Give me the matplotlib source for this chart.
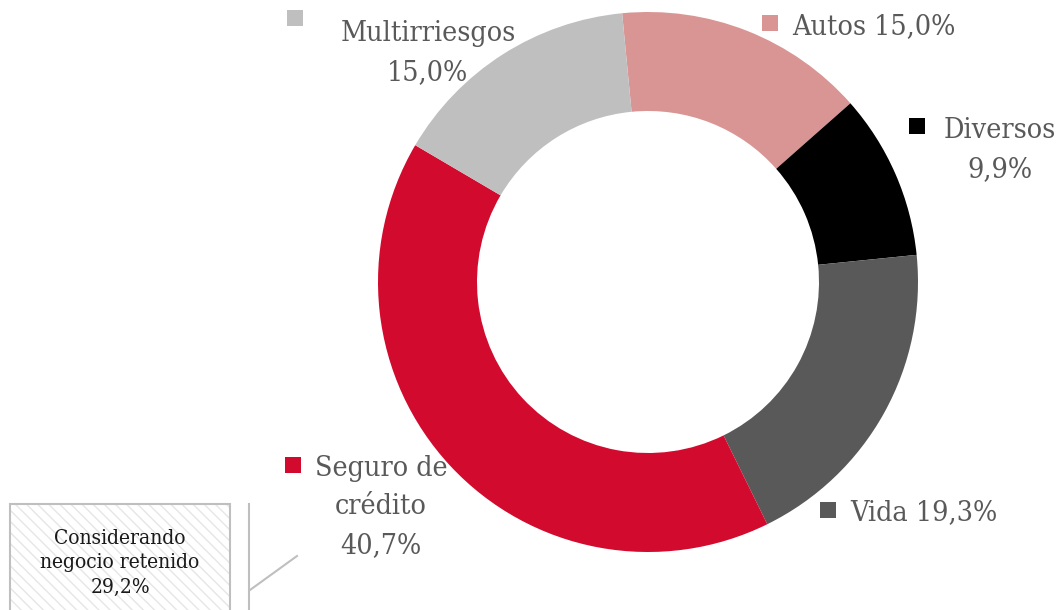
import matplotlib

matplotlib.use("Agg")
import matplotlib.pyplot as plt
from matplotlib import font_manager
from matplotlib.patches import Rectangle

# Portfolio mix (clockwise from the top)
segments = ["Autos", "Diversos", "Vida", "Seguro de crédito", "Multirriesgos"]
shares = [15.0, 9.9, 19.3, 40.7, 15.0]
colors = ["#D99594", "#000000", "#595959", "#D20A2E", "#BFBFBF"]
retained_note = "Considerando\nnegocio retenido\n29,2%"

# condensed slab-ish serif if present, plain DejaVu Serif otherwise
cond = [f.fname for f in font_manager.fontManager.ttflist
        if f.name == "DejaVu Serif" and "ondensed" in f.fname
        and f.weight in (400, "normal") and f.style == "normal"]
found = bool(cond)

W, H = 1060, 610
fig = plt.figure(figsize=(W / 100, H / 100), dpi=100)
ax = fig.add_axes([0, 0, 1, 1])
ax.set_xlim(0, W)
ax.set_ylim(0, H)
ax.set_aspect("equal")
ax.axis("off")


def py(y):
    # pixel row -> data y
    return H - y


def fp(size):
    if found:
        return font_manager.FontProperties(fname=cond[0], size=size)
    return font_manager.FontProperties(family="DejaVu Serif", size=size)


ax.pie(
    shares, colors=colors, startangle=95.5, counterclock=False,
    center=(648, py(282)), radius=270,
    wedgeprops=dict(width=99, linewidth=0),
)
ax.set_xlim(0, W)
ax.set_ylim(0, H)

size = 20.5 if found else 19


def pct(v):
    return f"{v:.1f}%".replace(".", ",")


def label(x_sq, y_sq, text, x_txt, y_txt, color, ha="left"):
    ax.add_patch(Rectangle((x_sq, py(y_sq + 16)), 16, 16, color=color, lw=0))
    ax.text(x_txt, py(y_txt), text, ha=ha, va="center", linespacing=1.57,
            fontproperties=fp(size), color="#595959")


label(287, 10, f"Multirriesgos\n{pct(shares[4])}", 428, 53, colors[4],
      ha="center")
label(762, 15, f"Autos {pct(shares[0])}", 792, 27, colors[0])
label(909, 118, f"Diversos\n{pct(shares[1])}", 1000, 150, colors[1],
      ha="center")
label(820, 502, f"Vida {pct(shares[2])}", 850, 513, colors[2])
label(285, 457, f"Seguro de\ncrédito\n{pct(shares[3])}", 381, 507,
      colors[3], ha="center")

# retained-business note box
ax.add_patch(Rectangle((10, py(612)), 220, 108, facecolor="white",
                       edgecolor="#E6E6E6", hatch="\\\\\\", lw=0))
ax.add_patch(Rectangle((10, py(612)), 220, 108, fill=False,
                       edgecolor="#BFBFBF", lw=1.5))
ax.text(120, py(563), retained_note, ha="center", va="center",
        fontproperties=fp(15 if found else 14), color="#1A1A1A",
        linespacing=1.36)
ax.plot([249, 249], [py(504), py(612)], color="#BFBFBF", lw=1.5)
ax.plot([250, 297], [py(590), py(556)], color="#BFBFBF", lw=1.5)

fig.savefig("out.png", dpi=100, facecolor="white")
